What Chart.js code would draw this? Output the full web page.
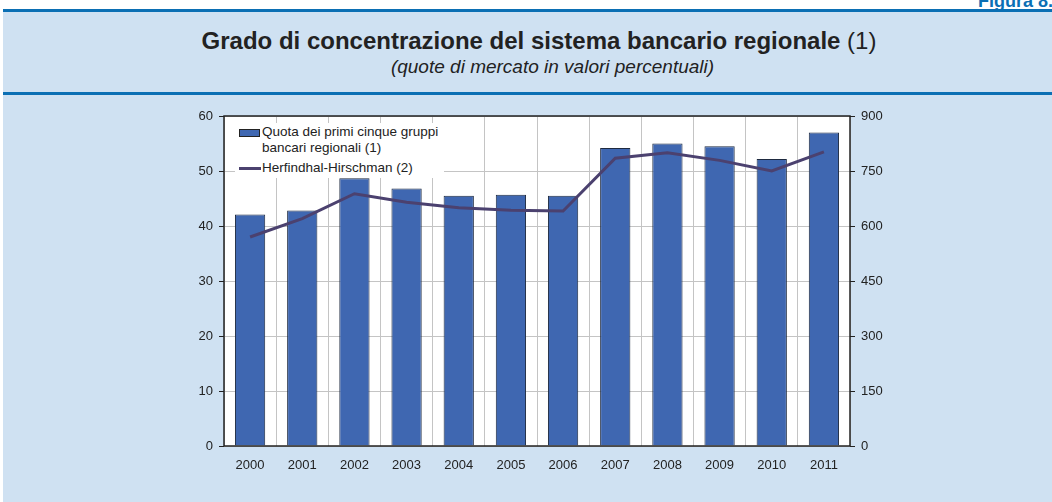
<!DOCTYPE html>
<html>
<head>
<meta charset="utf-8">
<script src="https://cdn.jsdelivr.net/npm/chart.js@4"></script>
<style>
  html, body { margin: 0; padding: 0; background: #fff; }
  #wrap { position: relative; width: 1052px; height: 502px; overflow: hidden; font-family: "Liberation Sans", Arial, sans-serif; }
  #fig { position: absolute; top: -9px; left: 978px; font-weight: bold; font-size: 18px; color: #0b6fb4; white-space: nowrap; }
  #panel { position: absolute; top: 9px; left: 3px; right: 0; bottom: 0; background: #cfe1f2; border-top: 3px solid #0b6fb4; }
  #rule { position: absolute; top: 92px; left: 3px; right: 0; height: 3px; background: #0b6fb4; }
  #title { position: absolute; top: 27px; left: 0; width: 1078px; text-align: center; font-size: 24px; color: #222; }
  #subtitle { position: absolute; top: 56px; left: 0; width: 1105px; text-align: center; font-size: 19px; font-style: italic; color: #222; }
  canvas { position: absolute; top: 0; left: 0; }
  #legend { position: absolute; left: 235px; top: 123px; background: #fff; font-size: 13.5px; color: #222; line-height: 16px; padding: 1px 6px 2px 2px; }
  .row { position: relative; padding-left: 25px; }
  .box { position: absolute; left: 2px; top: 5px; width: 21px; height: 8px; background: #3f67b1; border: 1px solid #222; box-sizing: border-box; }
  .ln { position: absolute; left: 2px; top: 7px; width: 22px; height: 3px; background: #4b416f; }
</style>
</head>
<body>
<div id="wrap">
  <div id="fig">Figura 8.1</div>
  <div id="panel"></div>
  <div id="rule"></div>
  <div id="title"><b>Grado di concentrazione del sistema bancario regionale</b> (1)</div>
  <div id="subtitle">(quote di mercato in valori percentuali)</div>
  <canvas id="chart" width="1052" height="502"></canvas>
  <div id="legend">
    <div class="row"><span class="box"></span>Quota dei primi cinque gruppi<br>bancari regionali (1)</div>
    <div class="row" style="margin-top:4px"><span class="ln"></span>Herfindhal-Hirschman (2)</div>
  </div>
</div>
<script>
var years = ['2000', '2001', '2002', '2003', '2004', '2005', '2006', '2007', '2008', '2009', '2010', '2011'];
var quota = [42.1, 42.8, 48.7, 46.8, 45.5, 45.7, 45.5, 54.2, 55.0, 54.5, 52.2, 57.0];
var herfindahl = [570, 620, 688, 665, 650, 643, 641, 785, 800, 779, 750, 802];

// white plot background + black frame
var frame = {
    id: 'frame',
    beforeDraw: function (chart) {
	var a = chart.chartArea, ctx = chart.ctx;
	ctx.save();
	ctx.fillStyle = '#fff';
	ctx.fillRect(a.left, a.top, a.right - a.left, a.bottom - a.top);
	ctx.restore();
    },
    afterDraw: function (chart) {
	var a = chart.chartArea, ctx = chart.ctx;
	ctx.save();
	ctx.strokeStyle = '#222';
	ctx.lineWidth = 1.5;
	ctx.strokeRect(a.left, a.top, a.right - a.left, a.bottom - a.top);
	ctx.restore();
    }
};

Chart.defaults.font.family = '"Liberation Sans", Arial, sans-serif';
Chart.defaults.font.size = 13;
Chart.defaults.color = '#222';

new Chart(document.getElementById('chart'), {
    type: 'bar',
    data: {
	labels: years,
	datasets: [
	    {
		type: 'line',
		label: 'Herfindhal-Hirschman (2)',
		data: herfindahl,
		yAxisID: 'y2',
		borderColor: '#4b416f',
		borderWidth: 3,
		pointRadius: 0,
		tension: 0,
		order: 0
	    },
	    {
		label: 'Quota dei primi cinque gruppi bancari regionali (1)',
		data: quota,
		yAxisID: 'y',
		backgroundColor: '#3f67b1',
		borderColor: '#1e2a40',
		borderWidth: 1,
		categoryPercentage: 1,
		barPercentage: 0.58,
		order: 1
	    }
	]
    },
    options: {
	responsive: false,
	animation: false,
	layout: { padding: { left: 184, right: 162, top: 116, bottom: 26 } },
	plugins: { legend: { display: false }, tooltip: { enabled: false } },
	scales: {
	    x: {
		grid: { color: '#c4c4c4', drawTicks: false, offset: true },
		border: { display: false },
		ticks: { padding: 12 },
		afterFit: function (s) { s.height = 30; }
	    },
	    y: {
		position: 'left',
		min: 0, max: 60,
		ticks: { stepSize: 10, padding: 6 },
		grid: { color: '#c4c4c4', tickColor: '#222', tickLength: 5 },
		border: { display: false },
		afterFit: function (s) { s.width = 40; }
	    },
	    y2: {
		position: 'right',
		min: 0, max: 900,
		ticks: { stepSize: 150, padding: 6 },
		grid: { drawOnChartArea: false, tickColor: '#222', tickLength: 5 },
		border: { display: false },
		afterFit: function (s) { s.width = 40; }
	    }
	}
    },
    plugins: [frame]
});
</script>
</body>
</html>
